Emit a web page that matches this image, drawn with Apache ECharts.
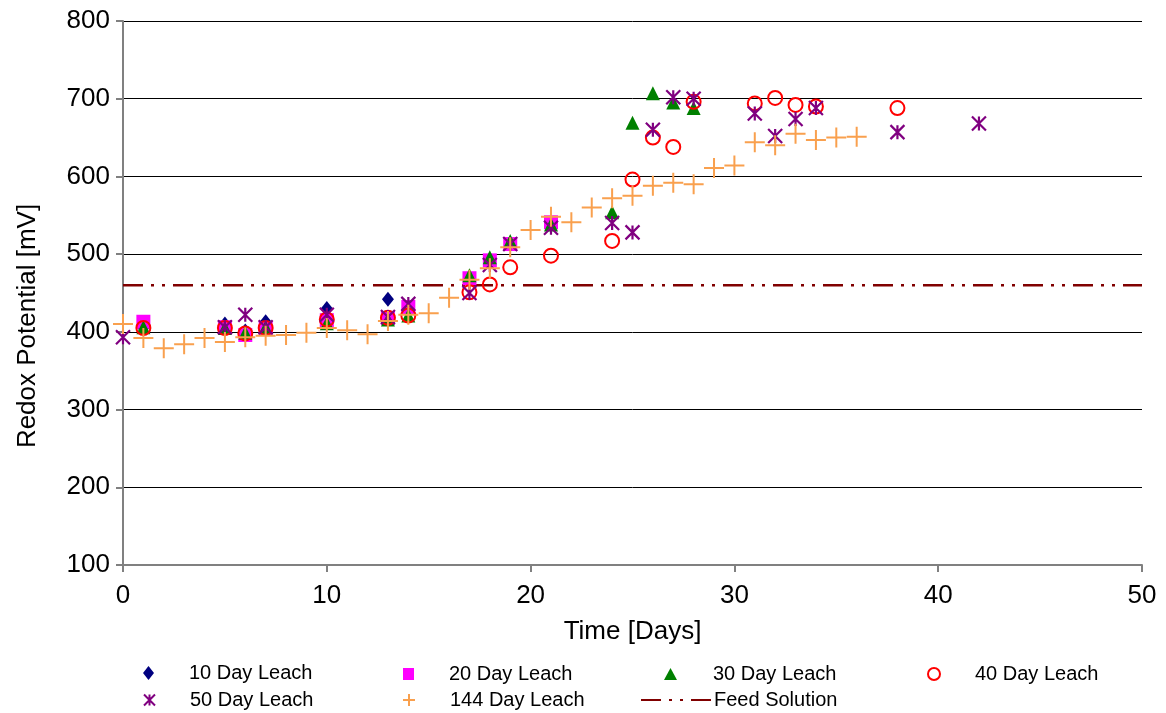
<!DOCTYPE html>
<html>
<head>
<meta charset="utf-8">
<script src="https://cdn.jsdelivr.net/npm/echarts@6/dist/echarts.min.js"></script>
<style>
  html, body { margin: 0; padding: 0; background: #fff; }
  #chart { width: 1166px; height: 713px; }
</style>
</head>
<body>
<div id="chart"></div>
<script>
// days and redox potential [mV] per leach test
var days10 = [1, 5, 6, 7, 10, 13];
var leach10 = [405, 410, 401, 413, 430, 442];

var days20 = [1, 5, 6, 7, 10, 13, 14, 17, 18, 19, 21];
var leach20 = [413, 406, 396, 405, 415, 418, 432, 469, 492, 513, 541];

var days30 = [1, 5, 6, 7, 10, 13, 14, 17, 18, 19, 21, 24, 25, 26, 27, 28];
var leach30 = [406, 405, 399, 406, 411, 416, 421, 473, 496, 517, 538, 554, 669, 707, 695, 688];

var days40 = [1, 5, 6, 7, 10, 13, 14, 17, 18, 19, 21, 24, 25, 26, 27, 28, 31, 32, 33, 34, 38];
var leach40 = [405, 405, 398, 405, 416, 418, 421, 451, 461, 483, 498, 517, 596, 650, 638, 696, 694, 701, 692, 690, 688];

var days50 = [0, 5, 6, 7, 10, 13, 14, 17, 18, 19, 21, 24, 25, 26, 27, 28, 31, 32, 33, 34, 38, 42];
var leach50 = [393, 406, 422, 406, 422, 419, 436, 450, 486, 513, 534, 540, 528, 660, 702, 700, 681, 652, 674, 688, 657, 668];

var days144 = [0, 1, 2, 3, 4, 5, 6, 7, 8, 9, 10, 11, 12, 13, 14, 15, 16, 17, 18,
  19, 20, 21, 22, 23, 24, 25, 26, 27, 28, 29, 30, 31, 32, 33, 34, 35, 36];
var leach144 = [410, 392, 379, 384, 392, 387, 393, 395, 396, 399, 405, 402, 397, 414, 422, 424, 444, 467, 482,
  509, 531, 548, 541, 560, 572, 575, 588, 592, 590, 611, 614, 644, 640, 655, 647, 650, 651];

var feedDays = [0, 50];
var feedValue = [460, 460];

var FONT = "'Liberation Sans', Arial, sans-serif";
var STAR = 'path://M0,0L10,10M10,0L0,10M5,0L5,10';
var PLUS = 'path://M0,5L10,5M5,0L5,10';

function pairs(xs, ys) {
  return xs.map(function (x, i) { return [x, ys[i]]; });
}

// one legend per entry so icon and text sit where the original has them
function legendAt(name, cx, textX, top, w, h, extra) {
  var left = Math.round(cx - w / 2);
  var lg = {
    data: [name],
    left: left,
    top: top,
    padding: 0,
    orient: 'horizontal',
    itemWidth: w,
    itemHeight: h,
    selectedMode: false,
    textStyle: {
      fontFamily: FONT, fontSize: 20, color: '#000',
      padding: [0, 0, 0, textX - (left + w + 6)]
    }
  };
  if (extra) Object.assign(lg, extra);
  return lg;
}

var myChart = echarts.init(document.getElementById('chart'));
var option = {
  backgroundColor: '#fff',
  animation: false,
  grid: { left: 123, right: 24, top: 21, bottom: 148, containLabel: false },
  legend: [
    legendAt('10 Day Leach', 148, 190, 663, 11, 14),
    legendAt('20 Day Leach', 408, 450, 664, 11, 12),
    legendAt('30 Day Leach', 670, 714, 664, 13, 12),
    legendAt('40 Day Leach', 933, 975, 664, 12, 12),
    legendAt('50 Day Leach', 148, 190, 690, 11, 11),
    legendAt('144 Day Leach', 408, 450, 690, 12, 12),
    legendAt('Feed Solution', 675, 714, 690, 70, 12, { itemStyle: { opacity: 0 } })
  ],
  xAxis: {
    type: 'value',
    min: 0,
    max: 50,
    interval: 10,
    name: 'Time [Days]',
    nameLocation: 'middle',
    nameGap: 54,
    nameTextStyle: { fontFamily: FONT, fontSize: 26, color: '#000' },
    axisLine: { lineStyle: { color: '#808080', width: 2 } },
    axisTick: { show: true, inside: false, length: 7, lineStyle: { color: '#808080', width: 2 } },
    axisLabel: { fontFamily: FONT, fontSize: 26, color: '#000', margin: 18 },
    splitLine: { show: false }
  },
  yAxis: {
    type: 'value',
    min: 100,
    max: 800,
    interval: 100,
    name: 'Redox Potential [mV]',
    nameLocation: 'middle',
    nameGap: 82,
    nameTextStyle: { fontFamily: FONT, fontSize: 26, color: '#000', padding: [0, 66, 0, 0] },
    axisLine: { show: true, lineStyle: { color: '#808080', width: 2 } },
    axisTick: { show: true, inside: false, length: 7, lineStyle: { color: '#808080', width: 2 } },
    axisLabel: { fontFamily: FONT, fontSize: 26, color: '#000', margin: 13 },
    splitLine: { show: true, lineStyle: { color: '#000', width: 1 } }
  },
  series: [
    {
      name: '10 Day Leach',
      type: 'scatter',
      symbol: 'diamond',
      symbolSize: [12, 15],
      itemStyle: { color: '#000080', opacity: 1 },
      data: pairs(days10, leach10)
    },
    {
      name: '20 Day Leach',
      type: 'scatter',
      symbol: 'rect',
      symbolSize: 14,
      itemStyle: { color: '#ff00ff', opacity: 1 },
      data: pairs(days20, leach20)
    },
    {
      name: '30 Day Leach',
      type: 'scatter',
      symbol: 'triangle',
      symbolSize: 14,
      itemStyle: { color: '#008000', opacity: 1 },
      data: pairs(days30, leach30)
    },
    {
      name: '40 Day Leach',
      type: 'scatter',
      symbol: 'circle',
      symbolSize: 14,
      itemStyle: { color: 'rgba(255,255,255,0)', borderColor: '#ff0000', borderWidth: 2, opacity: 1 },
      data: pairs(days40, leach40)
    },
    {
      name: '50 Day Leach',
      type: 'scatter',
      symbol: STAR,
      symbolSize: 14,
      itemStyle: { color: 'rgba(255,255,255,0)', borderColor: '#800080', borderWidth: 2.2, opacity: 1 },
      data: pairs(days50, leach50)
    },
    {
      name: '144 Day Leach',
      type: 'scatter',
      symbol: PLUS,
      symbolSize: 20,
      itemStyle: { color: 'rgba(255,255,255,0)', borderColor: '#f9a04e', borderWidth: 2, opacity: 1 },
      data: pairs(days144, leach144)
    },
    {
      name: 'Feed Solution',
      type: 'line',
      z: 1,
      symbol: 'none',
      itemStyle: { color: '#800000' },
      lineStyle: { color: '#800000', width: 2.5, type: [20, 8, 3, 8, 3, 8] },
      data: pairs(feedDays, feedValue)
    }
  ]
};
myChart.setOption(option);
window.addEventListener('resize', function () {
  myChart.resize();
});
</script>
</body>
</html>
